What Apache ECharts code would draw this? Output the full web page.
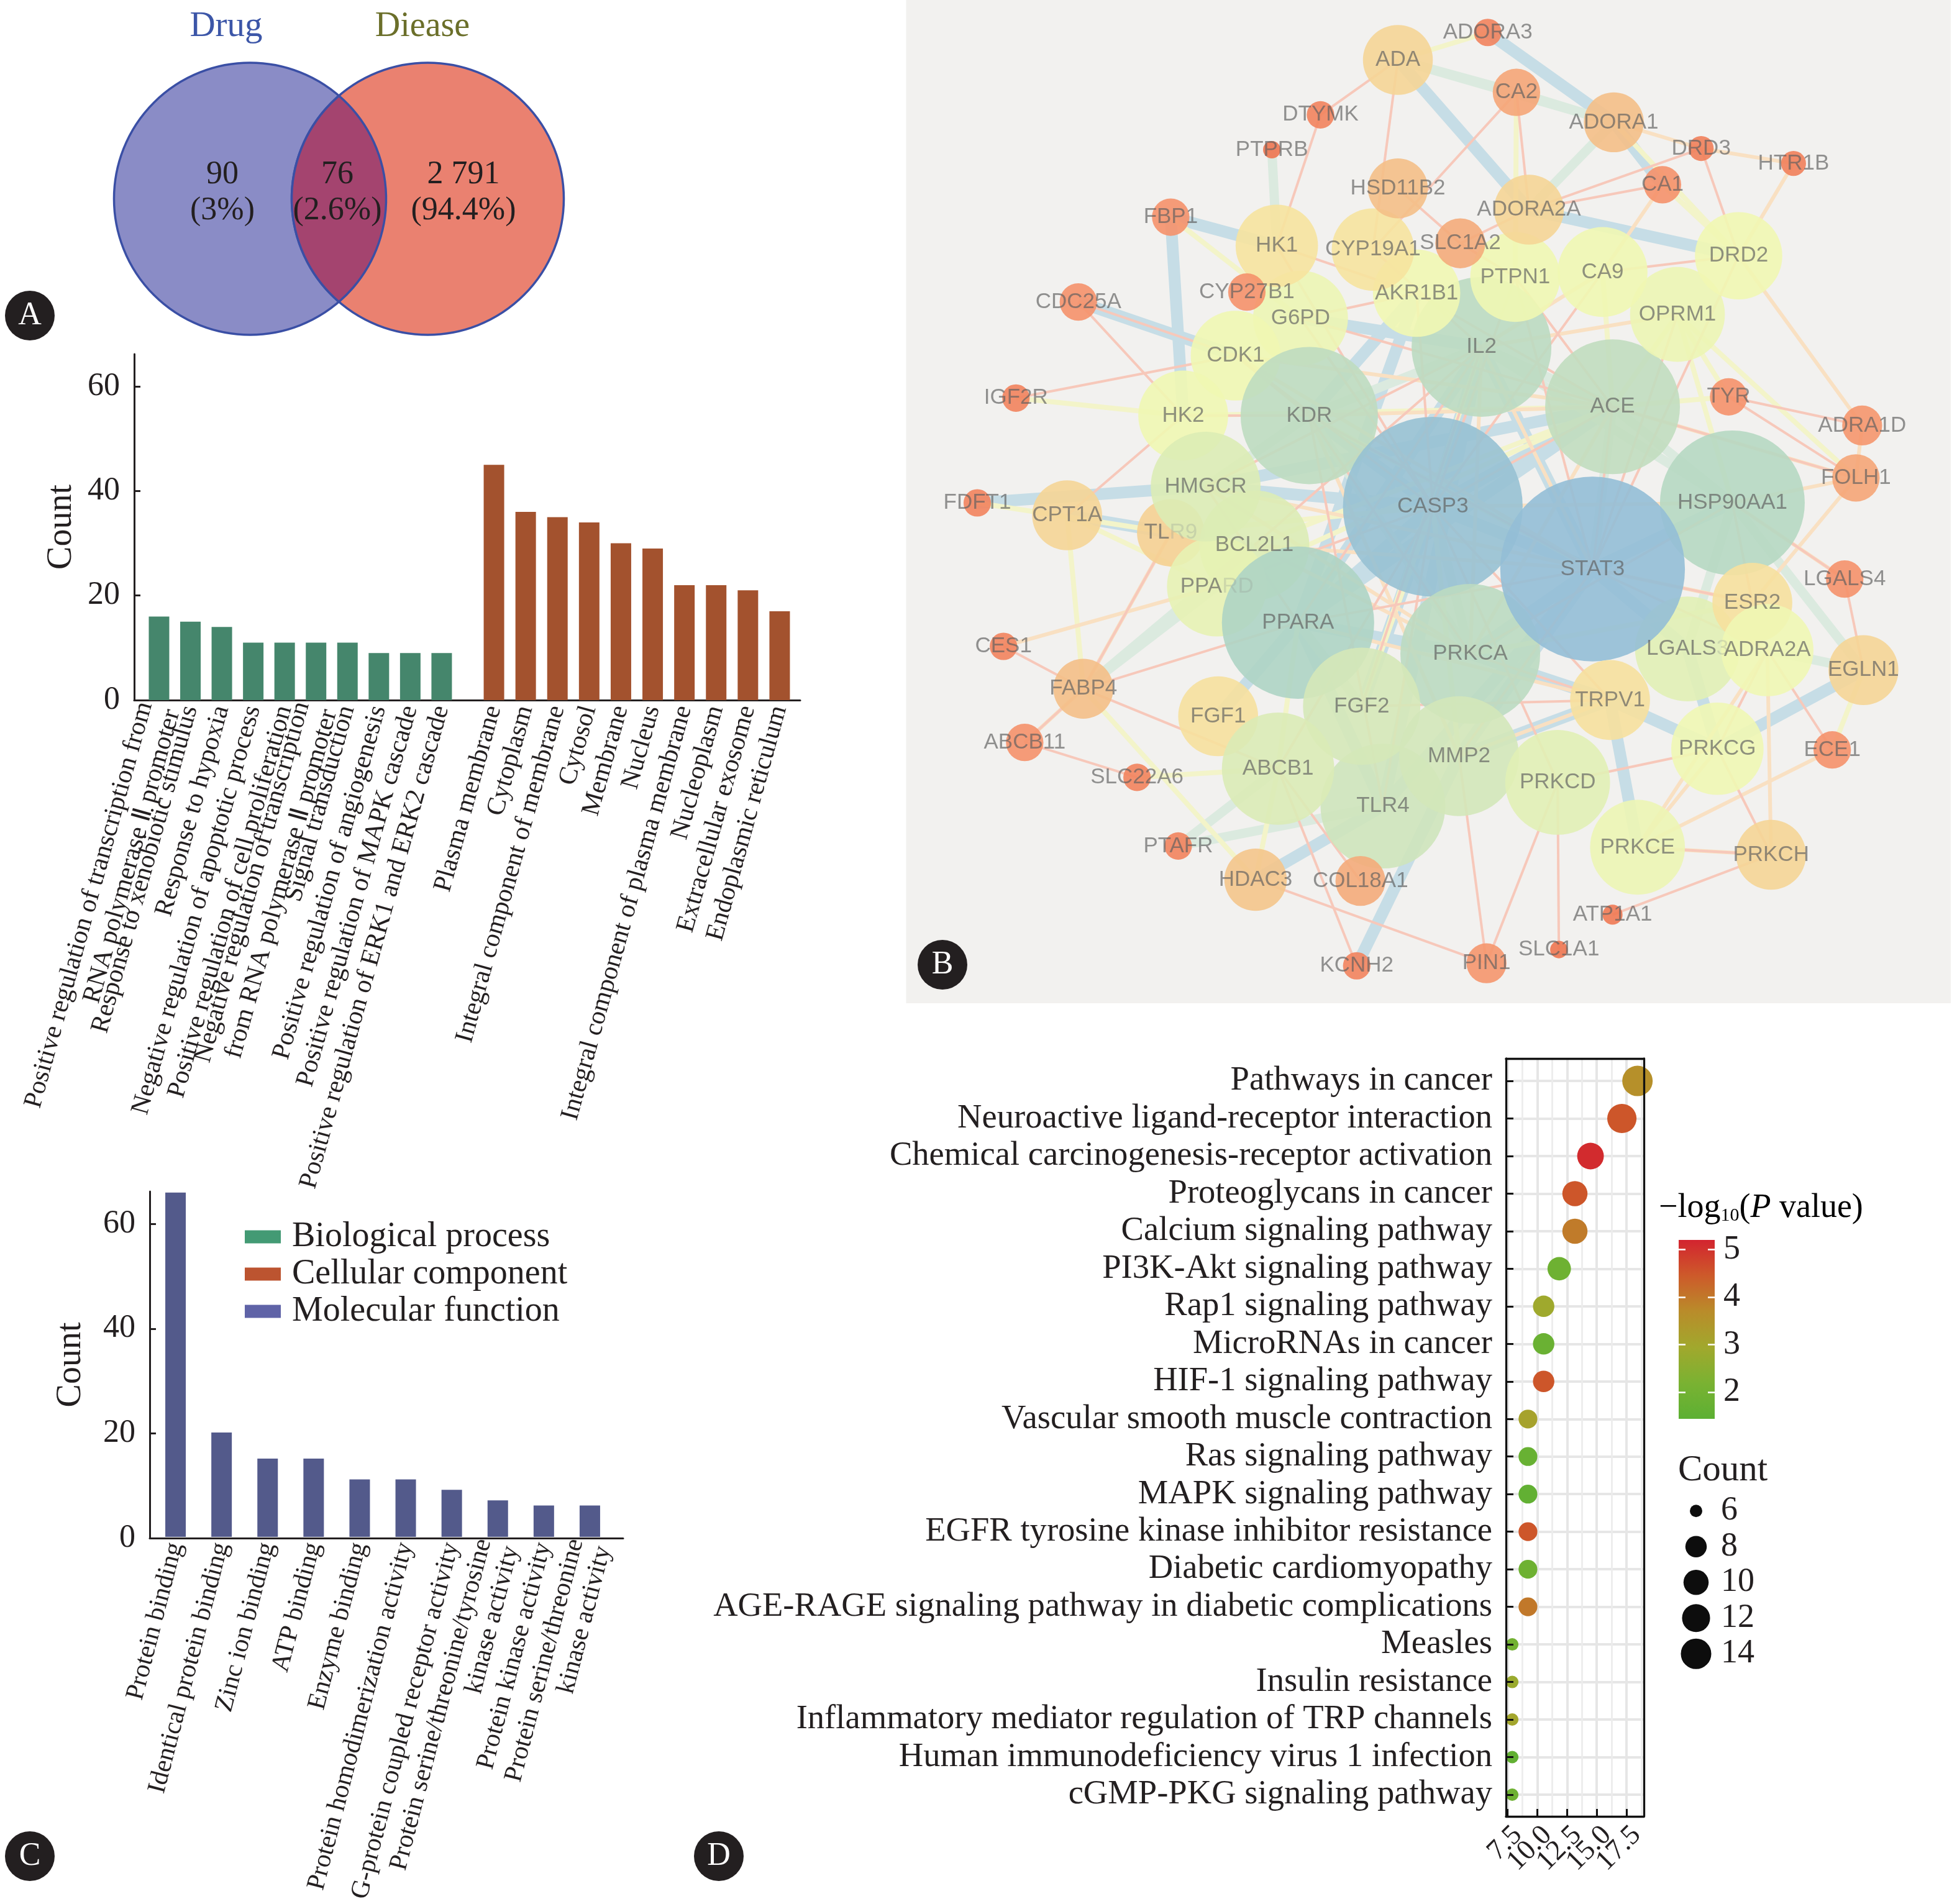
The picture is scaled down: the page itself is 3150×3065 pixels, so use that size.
<!DOCTYPE html>
<html><head><meta charset="utf-8">
<script src="https://cdn.jsdelivr.net/npm/echarts@6/dist/echarts.min.js"></script>
<style>html,body{margin:0;padding:0;background:#fff}#c{width:3150px;height:3065px}</style>
</head><body><div id="c"></div>
<script>
// ---------- Panel A ----------
const vennNames = ['Drug', 'Diease'];
const vennCounts = ['90', '76', '2 791'];
const vennPercents = ['(3%)', '(2.6%)', '(94.4%)'];
// ---------- GO bars ----------
const bpCategories = ['Positive regulation of transcription from\nRNA polymerase Ⅱ promoter','Response to xenobiotic stimulus','Response to hypoxia','Negative regulation of apoptotic process','Positive regulation of cell proliferation','Negative regulation of transcription\nfrom RNA polymerase Ⅱ promoter','Signal transduction','Positive regulation of angiogenesis','Positive regulation of MAPK cascade','Positive regulation of ERK1 and ERK2 cascade'];
const bpCounts = [16,15,14,11,11,11,11,9,9,9];
const ccCategories = ['Plasma membrane','Cytoplasm','Integral component of membrane','Cytosol','Membrane','Nucleus','Integral component of plasma membrane','Nucleoplasm','Extracellular exosome','Endoplasmic reticulum'];
const ccCounts = [45,36,35,34,30,29,22,22,21,17];
const mfCategories = ['Protein binding','Identical protein binding','Zinc ion binding','ATP binding','Enzyme binding','Protein homodimerization activity','G-protein coupled receptor activity','Protein serine/threonine/tyrosine\nkinase activity','Protein kinase activity','Protein serine/threonine\nkinase activity'];
const mfCounts = [66,20,15,15,11,11,9,7,6,6];
const countTicks = [0,20,40,60];
// ---------- Panel D KEGG dots ----------
const keggTerms = ['Pathways in cancer','Neuroactive ligand-receptor interaction','Chemical carcinogenesis-receptor activation','Proteoglycans in cancer','Calcium signaling pathway','PI3K-Akt signaling pathway','Rap1 signaling pathway','MicroRNAs in cancer','HIF-1 signaling pathway','Vascular smooth muscle contraction','Ras signaling pathway','MAPK signaling pathway','EGFR tyrosine kinase inhibitor resistance','Diabetic cardiomyopathy','AGE-RAGE signaling pathway in diabetic complications','Measles','Insulin resistance','Inflammatory mediator regulation of TRP channels','Human immunodeficiency virus 1 infection','cGMP-PKG signaling pathway'];
const keggRatio = [18.42,17.11,14.47,13.16,13.16,11.84,10.53,10.53,10.53,9.21,9.21,9.21,9.21,9.21,9.21,7.89,7.89,7.89,7.89,7.89];
const keggCount = [14,13,11,10,10,9,8,8,8,7,7,7,7,7,7,6,6,6,6,6];
const keggLogP = [3.6,4.5,5.1,4.5,3.95,1.9,2.9,1.8,4.5,3.1,1.75,1.6,4.5,1.9,4.0,2.0,2.8,3.0,1.6,1.9];
const ratioTicks = [7.5,10,12.5,15,17.5];
const ratioLabelsOdd = [7.5,12.5,17.5];
const ratioLabelsEven = [10,15];
const ratioMinorTicks = [8.75,11.25,13.75,16.25,18.75];
const logPTicks = [2,3,4,5];
const countLegend = [6,8,10,12,14];
// ---------- Network ----------
const netNames = ['TLR9','BCL2L1','PPARD','G6PD','CDK1','HK2','HMGCR','KDR','IL2','AKR1B1','PTPN1','HK1','CYP19A1','CPT1A','CASP3','PPARA','PRKCA','ACE','HSP90AA1','TLR4','FGF2','FGF1','ABCB1','MMP2','PRKCD','LGALS3','ESR2','ADRA2A','STAT3','TRPV1','PRKCG','PRKCE','PRKCH','EGLN1','OPRM1','DRD2','CA9','ADA','HSD11B2','ADORA2A','SLC1A2','ADORA1','CA2','FABP4','HDAC3','COL18A1','FOLH1','ADRA1D','PIN1','CA1','TYR','FBP1','CYP27B1','CDC25A','LGALS4','ECE1','ABCB11','ADORA3','DTYMK','DRD3','HTR1B','IGF2R','FDFT1','CES1','SLC22A6','PTAFR','KCNH2','PTPRB','ATP1A1','SLC1A1'];
const netX = [938,1005,975,1042,990,948,966,1049,1187,1135,1214,1023,1100,855,1148,1040,1178,1292,1388,1108,1091,976,1024,1169,1248,1352,1404,1416,1276,1290,1376,1312,1419,1493,1344,1393,1284,1120,1120,1225,1170,1293,1215,868,1006,1090,1487,1492,1191,1332,1385,938,999,864,1478,1468,821,1192,1058,1363,1437,814,783,804,911,944,1087,1019,1292,1249];
const netY = [427,437,470,255,285,333,390,333,278,235,222,197,200,413,406,499,524,326,403,646,566,574,616,606,627,520,483,521,456,561,600,679,685,537,252,205,218,48,151,168,195,98,74,552,705,706,383,341,772,148,318,174,234,242,464,601,595,26,92,119,131,319,403,518,623,678,774,120,733,761];
const netDegree = [27,44,40,38,36,36,44,55,56,35,36,33,33,28,72,61,56,54,58,50,47,32,45,48,42,42,32,37,74,32,37,38,28,28,38,35,36,28,24,28,20,24,19,24,25,20,19,16,16,15,15,15,15,15,15,15,15,11,11,10,10,11,11,11,11,11,11,7,8,7];
const netEdgesThick = ['FBP1 HK1','FBP1 HK2','CDC25A CDK1','ADA ADORA2A','ADORA3 ADORA1','ADORA1 CA1','ADORA2A DRD2','FDFT1 HMGCR','CPT1A TLR9','HDAC3 TLR4','KCNH2 MMP2','EGLN1 PRKCG','TRPV1 PRKCE','TRPV1 PRKCG','LGALS3 PRKCG','TRPV1 MMP2','CASP3 STAT3','CASP3 IL2','CASP3 KDR','CASP3 HMGCR','CASP3 PPARA','STAT3 IL2','STAT3 HSP90AA1','STAT3 PRKCA','STAT3 MMP2','STAT3 TLR4','PPARA PRKCA','PPARA TLR4','PRKCA TRPV1','KDR AKR1B1','CASP3 ACE','PPARA FGF1','STAT3 LGALS3','CASP3 FGF2','G6PD IL2','IL2 PPARA','HMGCR ACE','IL2 TLR4','AKR1B1 PPARA','ACE PPARA'];
const netEdgesMedium = ['PTPRB HK1','ADA CA2','ADA ADORA1','CA2 ADORA1','ADORA1 ADORA2A','FABP4 PPARD','FABP4 BCL2L1','PTAFR ABCB1','PTAFR TLR4','EGLN1 ADRA2A','HSP90AA1 EGLN1','IL2 ACE','IL2 KDR','ACE HSP90AA1','KDR HMGCR','FGF2 PPARA','CASP3 PRKCA','ACE STAT3','HSP90AA1 LGALS3','IL2 HSP90AA1','KDR PRKCA'];
const netEdgesLight = ['FBP1 G6PD','ADA ADORA3','CA2 PTPN1','ADORA1 DRD2','CA1 DRD2','OPRM1 FOLH1','OPRM1 HSP90AA1','OPRM1 ACE','IGF2R HK2','CPT1A PPARD','FDFT1 TLR9','CPT1A FABP4','FABP4 HDAC3','SLC22A6 ABCB1','HDAC3 ABCB1','EGLN1 ECE1','OPRM1 TYR','ACE TYR','CASP3 TLR9','PRKCA ESR2','FGF2 CASP3','ABCB1 PPARA','CA9 ACE','KDR STAT3','HK2 ACE','BCL2L1 ACE','MMP2 CASP3','PPARD ACE','FGF2 IL2'];
const netEdgesThin = ['ADORA1 DRD3','DRD3 HTR1B','HTR1B DRD2','CA1 CA9','DRD2 ADRA1D','ADRA1D FOLH1','ACE FOLH1','HSP90AA1 FOLH1','HSP90AA1 LGALS4','FOLH1 ESR2','FABP4 TLR9','CES1 PPARD','FABP4 ABCB11','ECE1 PRKCE','ADRA2A PRKCH','PRKCG PRKCE','ADRA2A PRKCE','PRKCE PRKCH','KDR ACE','IL2 STAT3','CASP3 HSP90AA1','PPARA TRPV1','IL2 PRKCA','HMGCR STAT3','MMP2 TRPV1','OPRM1 IL2','CA9 IL2','ESR2 STAT3','ACE PRKCA','BCL2L1 PRKCA','CDK1 ACE','CDK1 STAT3','HMGCR PRKCA','BCL2L1 STAT3','KDR MMP2'];
const netEdgesHair = ['DTYMK ADA','DTYMK HK1','ADA CYP19A1','CA2 ADORA2A','CA2 CYP19A1','DRD3 ADORA2A','DRD3 DRD2','CA1 ADORA2A','CA9 DRD2','TYR ADRA1D','TYR FOLH1','ACE FOLH1','IGF2R CDK1','CDC25A HK2','CDC25A CDK1','HK2 CPT1A','FABP4 TLR9','CES1 FABP4','FABP4 ABCB11','ABCB11 SLC22A6','FABP4 PPARA','FABP4 ABCB1','ABCB1 KCNH2','ABCB1 COL18A1','HDAC3 PIN1','MMP2 PIN1','PRKCD PIN1','PRKCD SLC1A1','PRKCH ATP1A1','PRKCE PRKCH','ADRA2A ECE1','LGALS4 EGLN1','HSP90AA1 LGALS4','PRKCG PRKCH','PRKCD PRKCG','ADRA2A PRKCG','HK1 CASP3','CDK1 CASP3','KDR CDK1','HK2 KDR','HSD11B2 SLC1A2','SLC1A2 ADORA2A','SLC1A2 PTPN1','CA9 CASP3','ACE CASP3','ACE STAT3','PPARA STAT3','IL2 PPARA','KDR STAT3','KDR PRKCA','HMGCR PPARA','PRKCA TRPV1','STAT3 ESR2','HSP90AA1 PRKCA','PTPN1 ACE','AKR1B1 CASP3','CYP19A1 IL2','HK1 AKR1B1','G6PD AKR1B1','CASP3 TRPV1','MMP2 STAT3','FGF2 TRPV1','PRKCD CASP3','TLR4 CASP3','HMGCR IL2','KDR TLR4','IL2 FGF2','PTPN1 STAT3','PTPN1 CASP3','AKR1B1 ACE','G6PD ACE','G6PD CASP3','OPRM1 STAT3','DRD2 STAT3','HSP90AA1 ESR2','ADRA2A STAT3','BCL2L1 IL2','PPARD CASP3','ABCB1 CASP3'];

const SERIF = 'Liberation Serif', INK = '#231f20';
const netStops = [[7,'#ee7550'],[15,'#f5916a'],[24,'#f4bf87'],[28,'#f5d596'],[33.5,'#f6e4a0'],[34.5,'#f2f7b2'],[37,'#eff7b4'],[44,'#dcecb5'],[50,'#cee4bb'],[56,'#bbdac1'],[61,'#aed4c4'],[74,'#93bed6']];
function hex(c){return [1,3,5].map(i=>parseInt(c.substr(i,2),16));}
function netColor(d){
  for(let i=1;i<netStops.length;i++){ if(d<=netStops[i][0]){
    const [d0,c0]=netStops[i-1],[d1,c1]=netStops[i],t=(d-d0)/(d1-d0),a=hex(c0),b=hex(c1);
    return 'rgb('+a.map((v,k)=>Math.round(v+(b[k]-v)*t)).join(',')+')';
  }}
  return netStops[netStops.length-1][1];
}
const fadedFrom = {PPARD:3, TLR9:2, LGALS3:5};
const edgeClasses = [
  [netEdgesThick,{width:19,color:'#c6dde6'}],
  [netEdgesMedium,{width:15,color:'#dbeadf'}],
  [netEdgesLight,{width:8,color:'#f3f4c9'}],
  [netEdgesThin,{width:6,color:'#f9e0c2'}],
  [netEdgesHair,{width:4,color:'#f7c8ba'}]
];
const netLinks = [];
edgeClasses.forEach(([list,style])=>list.forEach(p=>{
  const [s,t]=p.split(' ');
  netLinks.push({source:s,target:t,lineStyle:{width:style.width,color:style.color,opacity:1,curveness:0}});
}));
const netData = netNames.map((n,i)=>({name:n,value:[netX[i],netY[i]],symbolSize:netDegree[i]*4.018,itemStyle:{color:netColor(netDegree[i]),opacity:.9}}));

// ---- helpers ----
const grids=[], xAxes=[], yAxes=[], series=[];
function addGrid(g){grids.push(g);return grids.length-1;}
const lineInk={show:true,lineStyle:{color:INK,width:3}};
function countBase(left,top,width,height,max,gap){
  const g=addGrid({left,top,width,height});
  xAxes.push({gridIndex:g,type:'value',min:0,max:1,axisLine:{...lineInk,onZero:false},axisTick:{show:false},axisLabel:{show:false},splitLine:{show:false}});
  yAxes.push({gridIndex:g,type:'value',min:0,max,name:'Count',nameLocation:'middle',nameGap:gap,nameTextStyle:{fontFamily:SERIF,fontSize:56,color:INK},
    axisLine:lineInk,axisTick:{show:true,inside:true,length:10,lineStyle:{color:INK,width:3},customValues:countTicks},
    axisLabel:{fontFamily:SERIF,fontSize:52,color:INK,margin:23,customValues:countTicks},splitLine:{show:false}});
}
function barGroup(name,cats,vals,left,top,width,height,max,color,rot,fs){
  const g=addGrid({left,top,width,height});
  xAxes.push({gridIndex:g,type:'category',data:cats,axisLine:{show:false},axisTick:{show:false},
    axisLabel:{interval:0,rotate:rot,margin:10,fontFamily:SERIF,fontSize:fs,color:INK,lineHeight:46}});
  yAxes.push({gridIndex:g,type:'value',min:0,max,show:false});
  series.push({name,type:'bar',xAxisIndex:xAxes.length-1,yAxisIndex:yAxes.length-1,data:vals,barWidth:33,itemStyle:{color},z:3});
}
// ---- Venn ----
const vennGrid=addGrid({left:0,top:0,width:1000,height:560});
xAxes.push({gridIndex:vennGrid,type:'value',min:0,max:1000,show:false});
yAxes.push({gridIndex:vennGrid,type:'value',min:0,max:560,inverse:true,show:false});
const vennCx=[402.5,688.5], vennCy=320, vennR=219;
series.push({type:'custom',name:'venn',xAxisIndex:xAxes.length-1,yAxisIndex:yAxes.length-1,clip:false,silent:true,
  data:[[vennCx[0],vennCy,0],[vennCx[1],vennCy,1],[(vennCx[0]+vennCx[1])/2,vennCy,2]],
  renderItem(params,api){
    const kind=api.value(2),p=api.coord([api.value(0),vennCy]);
    const stroke={stroke:'#3a4fa5',lineWidth:3.5};
    if(kind<2) return {type:'circle',shape:{cx:p[0],cy:p[1],r:vennR},style:{fill:kind?'#ea8170':'#8a8cc6',...stroke}};
    const R=vennR,a=(vennCx[1]-vennCx[0])/2,h=Math.sqrt(R*R-a*a),w=R-a;
    const d=`M ${p[0]} ${p[1]-h} A ${R} ${R} 0 0 1 ${p[0]} ${p[1]+h} A ${R} ${R} 0 0 1 ${p[0]} ${p[1]-h} Z`;
    return {type:'path',shape:{pathData:d,x:p[0]-w,y:p[1]-h,width:2*w,height:2*h,layout:'cover'},style:{fill:'#a4446f',...stroke}};
  }});
// ---- BP / CC ----
countBase(216,570,1072,557,66.2,89);
barGroup('Biological process',bpCategories,bpCounts,230.7,570,505.5,557,66.2,'#45866c',74.5,42);
barGroup('Cellular component',ccCategories,ccCounts,769.5,570,511,557,66.2,'#a3522e',74.5,42);
// ---- MF ----
countBase(241,1918,762,558,66.2,99);
barGroup('Molecular function',mfCategories,mfCounts,245.5,1918,741,558,66.2,'#535a8b',75.5,42);
// ---- Network ----
const netGrid=addGrid({left:1458.5,top:0,width:1681.5,height:1615,show:true,backgroundColor:'#f2f1ef',borderWidth:0});
xAxes.push({gridIndex:netGrid,type:'value',min:726,max:1563,show:false});
yAxes.push({gridIndex:netGrid,type:'value',min:0,max:804,inverse:true,show:false});
const netLabelColor='rgba(95,95,95,.75)';
series.push({type:'graph',name:'network',layout:'none',coordinateSystem:'cartesian2d',xAxisIndex:xAxes.length-1,yAxisIndex:yAxes.length-1,
  roam:false,silent:true,data:netData,links:netLinks,z:2,
  label:{show:true,position:'inside',fontFamily:'Liberation Sans',fontSize:35,color:netLabelColor,
    formatter(p){const k=fadedFrom[p.name];return k?`{a|${p.name.slice(0,k)}}{b|${p.name.slice(k)}}`:p.name;},
    rich:{a:{fontFamily:'Liberation Sans',fontSize:35,color:netLabelColor},b:{fontFamily:'Liberation Sans',fontSize:35,color:'rgba(150,160,150,.35)'}}}});
// ---- KEGG ----
const kFrame=addGrid({left:2424,top:1704,width:222,height:1220,show:true,borderWidth:0,backgroundColor:'#fff'});
const xMin=7.36,xMax=18.96;
const ratioLabelStyle={rotate:45,margin:7,showMinLabel:true,showMaxLabel:true,hideOverlap:false,align:'right',verticalAlign:'top',fontFamily:SERIF,fontSize:46,color:INK,formatter:v=>v.toFixed(1)};
xAxes.push({gridIndex:kFrame,type:'value',min:xMin,max:xMax,position:'bottom',axisLine:{show:false},
  axisTick:{show:true,inside:true,length:12,lineStyle:{color:'#111',width:3},customValues:ratioTicks},
  splitLine:{show:true,lineStyle:{color:'#e6e6e6',width:4}},
  axisLabel:{...ratioLabelStyle,customValues:ratioLabelsOdd}});
yAxes.push({gridIndex:kFrame,type:'value',min:0,max:1,show:false});
xAxes.push({gridIndex:kFrame,type:'value',min:xMin,max:xMax,position:'bottom',axisLine:{show:false},
  axisTick:{show:false,customValues:ratioMinorTicks},
  axisLabel:{...ratioLabelStyle,customValues:ratioLabelsEven},
  splitLine:{show:true,lineStyle:{color:'#ececec',width:2.7}}});
const frameLine={show:true,onZero:false,lineStyle:{color:'#111',width:3.3}};
['top','bottom'].forEach(position=>xAxes.push({gridIndex:kFrame,type:'value',min:xMin,max:xMax,position,z:7,axisLine:frameLine,axisTick:{show:false},axisLabel:{show:false},splitLine:{show:false}}));
['left','right'].forEach(position=>yAxes.push({gridIndex:kFrame,type:'value',min:0,max:1,position,z:7,axisLine:frameLine,axisTick:{show:false},axisLabel:{show:false},splitLine:{show:false}}));
const kDots=addGrid({left:2424,top:1709.8,width:222,height:1209.4});
xAxes.push({gridIndex:kDots,type:'value',min:xMin,max:xMax,show:false});
yAxes.push({gridIndex:kDots,type:'category',inverse:true,data:keggTerms,axisLine:{show:false},axisTick:{show:false},
  splitLine:{show:true,alignWithLabel:true,lineStyle:{color:'#e6e6e6',width:4}},
  axisLabel:{interval:0,margin:22,fontFamily:SERIF,fontSize:54.6,color:INK,padding:[0,0,6,0]}});
const kDotsY=yAxes.length-1;
yAxes.push({gridIndex:kDots,type:'category',inverse:true,data:keggTerms,z:6,position:'left',axisLine:{show:false},
  axisTick:{show:true,inside:true,alignWithLabel:true,length:12,lineStyle:{color:'#111',width:3}},axisLabel:{show:false},splitLine:{show:false}});
function countSize(c){return 20+29*Math.sqrt((c-6)/8);}
series.push({type:'scatter',name:'KEGG',xAxisIndex:xAxes.length-1,yAxisIndex:kDotsY,z:4,clip:true,
  data:keggTerms.map((t,i)=>[keggRatio[i],i,keggCount[i],keggLogP[i]]),symbolSize:v=>countSize(v[2]),itemStyle:{opacity:1}});
const keggSeriesIndex=series.length-1;
const pStops=['#5cb033','#7ab232','#a1a82d','#b98c2a','#cd5a2a','#d3242f'];
// colour bar
const cb=addGrid({left:2702,top:1996,width:58,height:288});
xAxes.push({gridIndex:cb,type:'category',data:['-log10P'],show:false});
const cbTick={show:true,inside:true,length:11,lineStyle:{color:'#fff',width:2.5},customValues:logPTicks};
yAxes.push({gridIndex:cb,type:'value',min:1.44,max:5.2,position:'right',z:5,axisLine:{show:false},axisTick:cbTick,splitLine:{show:false},
  axisLabel:{customValues:logPTicks,margin:14,fontFamily:SERIF,fontSize:54,color:INK}});
const cbX=xAxes.length-1,cbY=yAxes.length-1;
yAxes.push({gridIndex:cb,type:'value',min:1.44,max:5.2,position:'left',z:5,axisLine:{show:false},axisTick:cbTick,axisLabel:{show:false,customValues:logPTicks},splitLine:{show:false}});
series.push({type:'bar',name:'colorbar',xAxisIndex:cbX,yAxisIndex:cbY,barWidth:'100%',silent:true,z:3,data:[5.2],
  itemStyle:{color:new echarts.graphic.LinearGradient(0,1,0,0,pStops.map((c,i)=>({offset:i/(pStops.length-1),color:c})))}});
// count legend
const cl=addGrid({left:2702,top:2403.5,width:56,height:287.5});
xAxes.push({gridIndex:cl,type:'value',min:0,max:1,show:false});
yAxes.push({gridIndex:cl,type:'category',inverse:true,position:'right',data:countLegend.map(String),axisLine:{show:false},axisTick:{show:false},
  axisLabel:{interval:0,margin:12,fontFamily:SERIF,fontSize:54,color:INK}});
series.push({type:'scatter',name:'countLegend',xAxisIndex:xAxes.length-1,yAxisIndex:yAxes.length-1,silent:true,
  data:countLegend.map((c,i)=>[0.5,i,c]),symbolSize:v=>countSize(v[2]),itemStyle:{color:'#0d0d0d',opacity:1}});

function badge(letter,cx,cy){return [
  {type:'circle',shape:{cx,cy,r:40},style:{fill:'#231f20'},z:20},
  {type:'text',x:cx,y:cy,style:{text:letter,fill:'#fff',font:'52px "Liberation Serif"',align:'center',verticalAlign:'middle'},z:21}
];}
function txt(text,x,y,color,size,align){return {type:'text',x,y,z:10,style:{text,fill:color||INK,font:(size||52)+'px "Liberation Serif"',align:align||'center',verticalAlign:'middle'}};}
const graphics=[
  ...badge('A',48,508),...badge('B',1517,1553),...badge('C',48,2988),...badge('D',1157,2988),
  txt(vennNames[0],364,43,'#3c56a8',57),txt(vennNames[1],680,43,'#6b6f2a',56),
  txt(vennCounts[0],358,281),txt(vennPercents[0],358,339),
  txt(vennCounts[1],543,281),txt(vennPercents[1],543,339),
  txt(vennCounts[2],746,281),txt(vennPercents[2],746,339),
  txt('Count',2701,2367,INK,59,'left'),
  {type:'text',x:2670,y:1945,z:10,style:{text:'{a|−log}{s|10}{a|(}{i|P}{a| value)}',verticalAlign:'middle',rich:{
    a:{fontFamily:SERIF,fontSize:54,color:INK},
    s:{fontFamily:SERIF,fontSize:30,color:INK,verticalAlign:'bottom',padding:[20,0,0,0]},
    i:{fontFamily:SERIF,fontStyle:'italic',fontSize:54,color:INK}}}}
];

const chart=echarts.init(document.getElementById('c'),null,{renderer:'canvas',width:3150,height:3065});
chart.setOption({animation:false,backgroundColor:'#fff',textStyle:{fontFamily:SERIF},
  grid:grids,xAxis:xAxes,yAxis:yAxes,series,graphic:graphics,
  tooltip:{show:false},
  visualMap:[{type:'continuous',show:false,seriesIndex:keggSeriesIndex,dimension:3,min:1.44,max:5.2,inRange:{color:pStops}}],
  legend:{left:394,top:1961,padding:0,orient:'vertical',selectedMode:false,icon:'rect',itemWidth:58,itemHeight:21,itemGap:0,
    textStyle:{fontFamily:SERIF,fontSize:56,color:INK,lineHeight:60,padding:[0,0,0,13]},
    data:[{name:'Biological process',itemStyle:{color:'#439a74'}},{name:'Cellular component',itemStyle:{color:'#bc5430'}},{name:'Molecular function',itemStyle:{color:'#5f63a7'}}]}
});
</script></body></html>
